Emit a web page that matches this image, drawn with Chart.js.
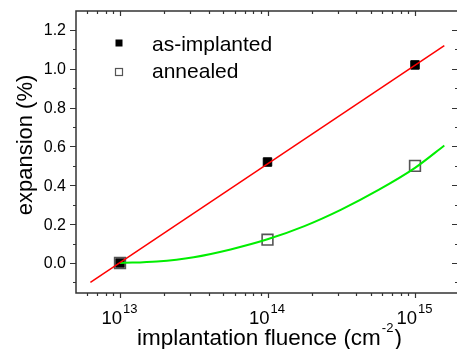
<!DOCTYPE html>
<html>
<head>
<meta charset="utf-8">
<script src="https://cdn.jsdelivr.net/npm/chart.js@4/dist/chart.umd.min.js"></script>
<style>
  html, body { margin: 0; padding: 0; background: #fff; overflow: hidden; }
  #wrap { width: 457px; height: 349px; overflow: hidden; }
</style>
</head>
<body>
<div id="wrap"><canvas id="fluence" width="460" height="349"></canvas></div>
<script>
// measured lattice expansion vs implantation fluence
const fluence = [1e13, 1e14, 1e15]
const asImplanted = [0.0, 0.52, 1.02]
const annealed = [0.0, 0.12, 0.50]
const seriesNames = ['as-implanted', 'annealed']

// fitted curves (linear fit in log-fluence, smooth curve for annealed)
const fitX = [6.3e12, 1.58e15]
const fitY = [-0.10, 1.12]
const curveX = [1e13, 1.78e13, 3.16e13, 5.62e13, 1e14, 1.78e14, 3.16e14, 5.62e14, 1e15, 1.58e15]
const curveY = [0.0, 0.008, 0.03, 0.07, 0.122, 0.19, 0.275, 0.375, 0.49, 0.605]

// axes
const yTicks = [0.0, 0.2, 0.4, 0.6, 0.8, 1.0, 1.2]
const yTickLabels = ['0.0', '0.2', '0.4', '0.6', '0.8', '1.0', '1.2']
const xTickExps = [13, 14, 15]
const xMin = Math.pow(10, 12.7017), xMax = Math.pow(10, 15.2915)
const yMin = -0.1545, yMax = 1.2978

const FONT = '"Liberation Sans", Arial, sans-serif'
const pts = (xs, ys) => xs.map((x, i) => ({x: x, y: ys[i]}))

// frame, ticks, labels and legend
const axesPlugin = {
  id: 'axesPlugin',
  afterDraw(chart) {
    const ctx = chart.ctx
    const a = chart.chartArea
    const xs = chart.scales.x, ys = chart.scales.y
    ctx.save()
    ctx.strokeStyle = '#333'
    ctx.lineWidth = 1.5
    ctx.strokeRect(a.left, a.top, a.right - a.left, a.bottom - a.top)

    ctx.lineWidth = 1.2
    ctx.beginPath()
    // x ticks: bottom outward, top inward
    for (let n = 12; n <= 15; n++) {
      for (let k = 1; k <= 9; k++) {
        const v = k * Math.pow(10, n)
        if (v < xMin || v > xMax) continue
        const px = Math.round(xs.getPixelForValue(v)) + 0.5
        const len = k === 1 ? 5 : 3
        ctx.moveTo(px, a.bottom); ctx.lineTo(px, a.bottom + len)
        ctx.moveTo(px, a.top); ctx.lineTo(px, a.top + len)
      }
    }
    // y ticks: left outward, right inward
    for (let i = -1; i <= 13; i++) {
      const v = i / 10
      if (v < yMin || v > yMax) continue
      const py = Math.round(ys.getPixelForValue(v)) + 0.5
      const len = i % 2 === 0 ? 6 : 3
      ctx.moveTo(a.left, py); ctx.lineTo(a.left - len, py)
      ctx.moveTo(a.right, py); ctx.lineTo(a.right - len, py)
    }
    ctx.stroke()

    ctx.fillStyle = '#000'
    ctx.font = '16px ' + FONT
    ctx.textAlign = 'right'
    ctx.textBaseline = 'middle'
    yTicks.forEach((v, i) => {
      ctx.fillText(yTickLabels[i], a.left - 10, ys.getPixelForValue(v) + 1)
    })

    // x tick labels as 10^n
    ctx.textBaseline = 'alphabetic'
    ctx.textAlign = 'left'
    xTickExps.forEach(e => {
      const px = xs.getPixelForValue(Math.pow(10, e))
      ctx.font = '18.5px ' + FONT
      const w1 = ctx.measureText('10').width
      ctx.font = '13px ' + FONT
      const w2 = ctx.measureText(String(e)).width
      const x0 = px - (w1 + w2) / 2 - 1
      ctx.font = '18.5px ' + FONT
      ctx.fillText('10', x0, 324)
      ctx.font = '13px ' + FONT
      ctx.fillText(String(e), x0 + w1 + 1, 313)
    })

    // x title with superscript
    ctx.font = '22.5px ' + FONT
    const t1 = 'implantation fluence (cm'
    const w1 = ctx.measureText(t1).width
    ctx.fillText(t1, 137, 345)
    ctx.font = '13px ' + FONT
    const w2 = ctx.measureText('-2').width
    ctx.fillText('-2', 137 + w1 + 1, 332)
    ctx.font = '22.5px ' + FONT
    ctx.fillText(')', 137 + w1 + w2 + 2, 345)

    // y title
    ctx.save()
    ctx.translate(32, 145)
    ctx.rotate(-Math.PI / 2)
    ctx.textAlign = 'center'
    ctx.font = '22px ' + FONT
    ctx.fillText('expansion (%)', 0, 0)
    ctx.restore()

    // legend
    ctx.fillStyle = '#000'
    ctx.fillRect(115.5, 39.5, 7, 7)
    ctx.strokeStyle = '#555'
    ctx.lineWidth = 1.2
    ctx.strokeRect(115.5, 68.5, 7, 7)
    ctx.font = '21px ' + FONT
    ctx.textAlign = 'left'
    ctx.fillText(seriesNames[0], 152, 51)
    ctx.fillText(seriesNames[1], 152, 78)
    ctx.restore()
  }
}

const ctx = document.getElementById('fluence')
const chart = new Chart(ctx, {
  type: 'scatter',
  data: {
    datasets: [
      {
        label: 'linear fit',
        data: pts(fitX, fitY),
        showLine: true,
        borderColor: '#ff0000',
        borderWidth: 1.5,
        pointRadius: 0,
        order: 0
      },
      {
        label: 'annealed fit',
        data: pts(curveX, curveY),
        showLine: true,
        borderColor: '#00ee00',
        borderWidth: 2,
        pointRadius: 0,
        cubicInterpolationMode: 'monotone',
        order: 0
      },
      {
        label: seriesNames[0],
        data: pts(fluence, asImplanted),
        pointStyle: 'rect',
        pointRadius: 6,
        backgroundColor: '#000',
        borderColor: '#000',
        borderWidth: 1,
        order: 2
      },
      {
        label: seriesNames[1],
        data: pts(fluence, annealed),
        pointStyle: 'rect',
        pointRadius: 7.6,
        backgroundColor: 'rgba(0,0,0,0)',
        borderColor: '#555',
        borderWidth: 1.6,
        order: 1
      }
    ]
  },
  options: {
    responsive: false,
    animation: false,
    layout: { autoPadding: false, padding: { left: 76, top: 11, right: 2, bottom: 56 } },
    plugins: { legend: { display: false }, tooltip: { enabled: false } },
    scales: {
      x: { type: 'logarithmic', display: false, min: xMin, max: xMax, bounds: 'data' },
      y: { type: 'linear', display: false, min: yMin, max: yMax }
    }
  },
  plugins: [axesPlugin]
})
</script>
</body>
</html>
